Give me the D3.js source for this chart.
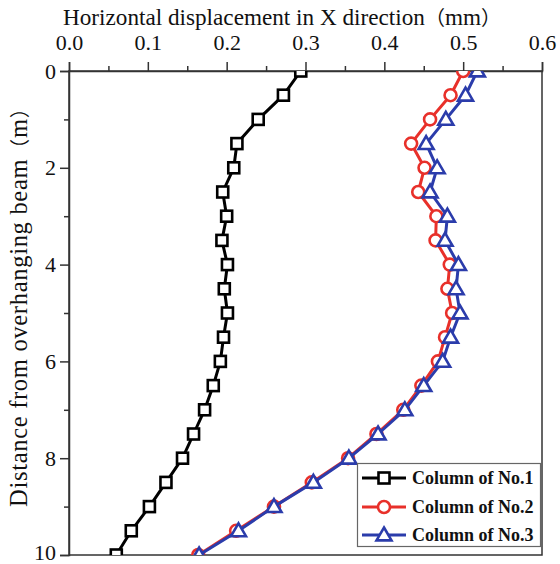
<!DOCTYPE html>
<html>
<head>
<meta charset="utf-8">
<script src="https://cdn.jsdelivr.net/npm/d3@7"></script>
<style>
  body { margin: 0; background: #fff; }
  svg { display: block; }
</style>
</head>
<body>
<div id="chart"></div>
<script>
// ---- Data ----
const depths = [0, 0.5, 1, 1.5, 2, 2.5, 3, 3.5, 4, 4.5, 5, 5.5, 6, 6.5, 7, 7.5, 8, 8.5, 9, 9.5, 10];
const column1 = [0.294, 0.272, 0.240, 0.213, 0.209, 0.195, 0.200, 0.194, 0.201, 0.197, 0.201, 0.196, 0.192, 0.183, 0.172, 0.158, 0.144, 0.123, 0.102, 0.079, 0.060];
const column2 = [0.500, 0.484, 0.458, 0.434, 0.451, 0.443, 0.466, 0.465, 0.483, 0.480, 0.486, 0.477, 0.468, 0.447, 0.424, 0.390, 0.354, 0.308, 0.260, 0.212, 0.164];
const column3 = [0.518, 0.503, 0.478, 0.453, 0.467, 0.458, 0.480, 0.477, 0.494, 0.491, 0.496, 0.484, 0.474, 0.450, 0.426, 0.392, 0.355, 0.310, 0.260, 0.215, 0.165];
const seriesNames = ["Column of No.1", "Column of No.2", "Column of No.3"];
const seriesColors = ["#000000", "#e8302a", "#2b3cab"];
const seriesMarkers = ["square", "circle", "triangle"];
const xTicks = [0, 0.1, 0.2, 0.3, 0.4, 0.5, 0.6];
const yTicks = [0, 2, 4, 6, 8, 10];
const xTitleParts = ["Horizontal displacement in X direction", "（", "mm", "）"];
const yTitleParts = ["Distance from overhanging beam", "（", "m", "）"];

const W = 560, H = 564;
const L = 69, R = 542, T = 71, B = 555;
const SERIF = "Liberation Serif, Times New Roman, serif";
const CJK = "Noto Sans CJK SC, sans-serif";

const svg = d3.select("#chart").append("svg").attr("width", W).attr("height", H)
  .style("font-family", SERIF);

const x = d3.scaleLinear().domain([0, 0.6]).range([L, R]);
const y = d3.scaleLinear().domain([0, 10]).range([T, B]);

const axisColor = "#333";

// clip
svg.append("clipPath").attr("id", "clip")
  .append("rect").attr("x", L).attr("y", T).attr("width", R - L).attr("height", B - T);

// frame
svg.append("rect").attr("x", L).attr("y", T).attr("width", R - L).attr("height", B - T)
  .attr("fill", "none").attr("stroke", axisColor).attr("stroke-width", 1.5);

// top axis major
const xAxis = d3.axisTop(x).tickValues(xTicks).tickFormat(d3.format(".1f")).tickSize(9).tickPadding(12);
const gx = svg.append("g").attr("transform", `translate(0,${T})`).call(xAxis)
  .attr("font-size", 22);
gx.attr("font-family", null);
gx.select(".domain").attr("stroke", axisColor).attr("stroke-width", 1.5);
gx.selectAll(".tick line").attr("stroke", axisColor).attr("stroke-width", 1.5);
gx.selectAll(".tick text").attr("fill", "#111").style("font-family", SERIF);
// top axis minor
const gxm = svg.append("g").attr("transform", `translate(0,${T})`)
  .call(d3.axisTop(x).tickValues([0.05, 0.15, 0.25, 0.35, 0.45, 0.55]).tickSize(5).tickFormat(""));
gxm.select(".domain").remove();
gxm.selectAll(".tick line").attr("stroke", axisColor).attr("stroke-width", 1.5);

// left axis major
const yAxis = d3.axisLeft(y).tickValues(yTicks).tickFormat(d3.format("d")).tickSize(9).tickPadding(4);
const gy = svg.append("g").attr("transform", `translate(${L},0)`).call(yAxis)
  .attr("font-size", 22);
gy.attr("font-family", null);
gy.select(".domain").attr("stroke", axisColor).attr("stroke-width", 1.5);
gy.selectAll(".tick line").attr("stroke", axisColor).attr("stroke-width", 1.5);
gy.selectAll(".tick text").attr("fill", "#111").style("font-family", SERIF)
  .attr("dy", d => d === 10 ? "0.2em" : "0.32em");
const gym = svg.append("g").attr("transform", `translate(${L},0)`)
  .call(d3.axisLeft(y).tickValues([1, 3, 5, 7, 9]).tickSize(5).tickFormat(""));
gym.select(".domain").remove();
gym.selectAll(".tick line").attr("stroke", axisColor).attr("stroke-width", 1.5);

// titles (Latin in serif, full-width brackets in CJK font)
function mixedText(sel, parts, cjkSize) {
  parts.forEach(p => {
    const t = sel.append("tspan").text(p);
    if (p === "（" || p === "）") t.style("font-family", CJK).attr("font-size", cjkSize);
    else t.style("font-family", SERIF);
  });
}
const xt = svg.append("text").attr("x", 63).attr("y", 25).attr("text-anchor", "start")
  .attr("font-size", 23.2).attr("fill", "#111");
mixedText(xt, xTitleParts, 20);
const yt = svg.append("text").attr("transform", `translate(27,507) rotate(-90)`)
  .attr("text-anchor", "start").attr("font-size", 24.5).attr("letter-spacing", 0.7).attr("fill", "#111");
mixedText(yt, yTitleParts, 20);

// markers
function drawMarker(g, type, cx, cy, color) {
  if (type === "square") {
    g.append("rect").attr("x", cx - 5.5).attr("y", cy - 5.5).attr("width", 11).attr("height", 11)
      .attr("fill", "#fff").attr("stroke", color).attr("stroke-width", 2.6);
  } else if (type === "circle") {
    g.append("circle").attr("cx", cx).attr("cy", cy).attr("r", 6)
      .attr("fill", "#fff").attr("stroke", color).attr("stroke-width", 2.6);
  } else {
    const s = 7.5;
    g.append("path").attr("d", `M${cx},${cy - s}L${cx + s},${cy + s * 0.72}L${cx - s},${cy + s * 0.72}Z`)
      .attr("fill", "#fff").attr("stroke", color).attr("stroke-width", 2.6).attr("stroke-linejoin", "miter");
  }
}

const allSeries = [column1, column2, column3];
const plot = svg.append("g").attr("clip-path", "url(#clip)");
const line = d3.line().x(d => x(d[0])).y(d => y(d[1]));
allSeries.forEach((vals, i) => {
  const pts = vals.map((v, j) => [v, depths[j]]);
  const g = plot.append("g");
  g.append("path").datum(pts).attr("d", line).attr("fill", "none")
    .attr("stroke", seriesColors[i]).attr("stroke-width", 3).attr("stroke-linejoin", "round");
  pts.forEach(p => drawMarker(g, seriesMarkers[i], x(p[0]), y(p[1]), seriesColors[i]));
});

// legend
const lg = svg.append("g");
lg.append("rect").attr("x", 357.5).attr("y", 463.5).attr("width", 183).attr("height", 83)
  .attr("fill", "#fff").attr("stroke", "#666").attr("stroke-width", 1.2);
const legY = [478, 507, 535];
seriesNames.forEach((name, i) => {
  const yy = legY[i];
  lg.append("line").attr("x1", 362).attr("x2", 406).attr("y1", yy).attr("y2", yy)
    .attr("stroke", seriesColors[i]).attr("stroke-width", 3);
  drawMarker(lg, seriesMarkers[i], 384, yy, seriesColors[i]);
  lg.append("text").attr("x", 412).attr("y", yy + 6).attr("font-size", 18).attr("font-weight", "bold")
    .style("font-family", SERIF).attr("fill", "#111").text(name);
});
</script>
</body>
</html>
